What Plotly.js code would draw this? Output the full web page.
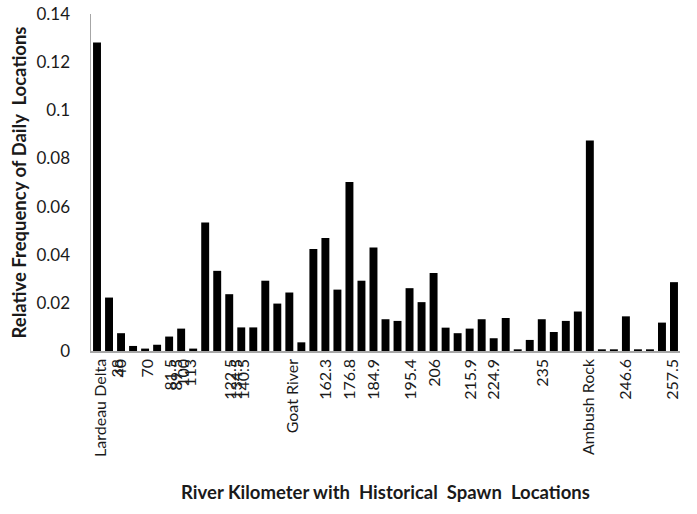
<!DOCTYPE html>
<html>
<head>
<meta charset="utf-8">
<script src="https://cdn.plot.ly/plotly-3.0.1.min.js"></script>
<style>html,body{margin:0;padding:0;background:#fff;}#chart{width:697px;height:514px;}</style>
</head>
<body>
<div id="chart"></div>
<script>
// Relative frequency of daily locations, one bar per location (left to right)
const frequency = [0.1282, 0.0222, 0.0074, 0.0021, 0.0010, 0.0026, 0.0060, 0.0093, 0.0010, 0.0534,
                   0.0333, 0.0236, 0.0098, 0.0098, 0.0292, 0.0197, 0.0243, 0.0036, 0.0424, 0.0469,
                   0.0255, 0.0702, 0.0292, 0.0430, 0.0132, 0.0125, 0.0261, 0.0203, 0.0324, 0.0097,
                   0.0074, 0.0093, 0.0132, 0.0053, 0.0137, 0.0007, 0.0046, 0.0132, 0.0079, 0.0125,
                   0.0164, 0.0875, 0.0007, 0.0007, 0.0144, 0.0007, 0.0007, 0.0118, 0.0286];

// Historical spawn location labels and the bar index where each label sits
const spawnLabels = ["Lardeau Delta", "38", "40", "70", "81.5", "89.5", "100", "113", "122.5", "134.5",
                     "140.5", "Goat River", "162.3", "176.8", "184.9", "195.4", "206", "215.9", "224.9",
                     "235", "Ambush Rock", "246.6", "257.5"];
const spawnLabelIndex = [0.3, 1.7, 2.0, 4.25, 6.1, 6.6, 7.2, 7.8, 11.1, 11.6,
                         12.2, 16.3, 19, 21, 23, 26.1, 28.1, 31.1, 33,
                         37.1, 40.9, 44, 47.9];

const yTicks = [0, 0.02, 0.04, 0.06, 0.08, 0.1, 0.12, 0.14];

const barIndex = frequency.map((_, i) => i);
const FONT = "Lato, 'Open Sans', sans-serif";

Plotly.newPlot("chart", [{
  type: "bar",
  x: barIndex,
  y: frequency,
  marker: {color: "#000000", line: {width: 0}},
  width: 0.66,
  hoverinfo: "y"
}], {
  width: 697,
  height: 514,
  margin: {l: 91, r: 17, t: 14, b: 163, pad: 0},
  paper_bgcolor: "#ffffff",
  plot_bgcolor: "#ffffff",
  showlegend: false,
  font: {family: FONT, color: "#1a1a1a"},
  xaxis: {
    type: "linear",
    range: [-0.5, frequency.length - 0.5],
    tickmode: "array",
    tickvals: spawnLabelIndex,
    ticktext: spawnLabels,
    tickangle: -90,
    ticks: "",
    showgrid: false,
    zeroline: false,
    showline: true,
    linecolor: "#a6a6a6",
    linewidth: 1.5,
    tickfont: {family: FONT, size: 16, color: "#1a1a1a"},
    title: {text: "<b>River Kilometer with  Historical  Spawn  Locations</b>", font: {family: FONT, size: 18.5, color: "#1a1a1a"}, standoff: 30},
    automargin: false,
    fixedrange: true
  },
  yaxis: {
    range: [0, 0.14],
    tickmode: "array",
    tickvals: yTicks,
    ticktext: yTicks.map(String),
    ticks: "outside",
    ticklen: 16,
    tickcolor: "rgba(0,0,0,0)",
    showgrid: false,
    zeroline: false,
    showline: true,
    linecolor: "#a6a6a6",
    linewidth: 1.5,
    tickfont: {family: FONT, size: 17, color: "#1a1a1a"},
    title: {text: "<b>Relative Frequency of Daily  Locations</b>", font: {family: FONT, size: 18.5, color: "#1a1a1a"}, standoff: 5},
    automargin: false,
    fixedrange: true
  }
}, {displayModeBar: false, staticPlot: true});
</script>
</body>
</html>
